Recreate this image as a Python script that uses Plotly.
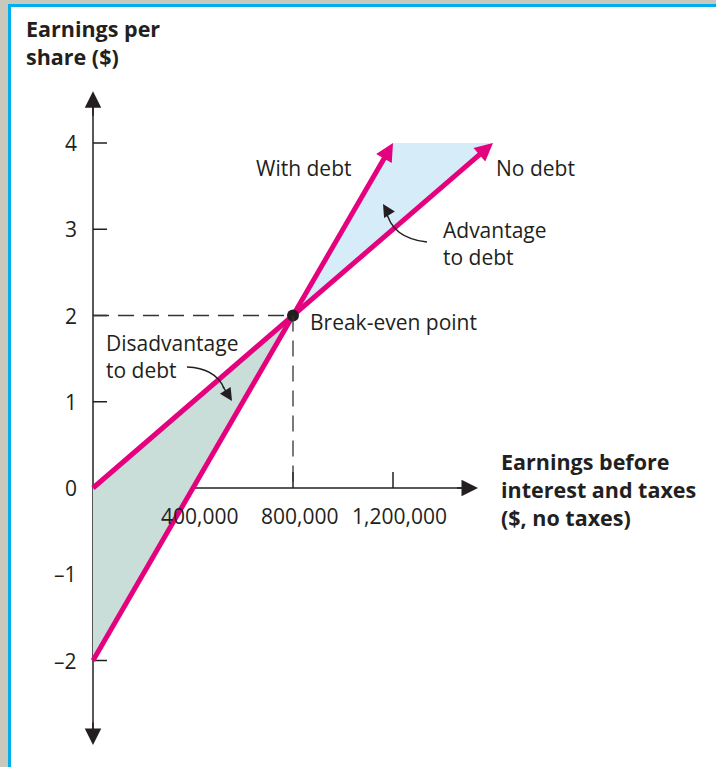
import plotly.graph_objects as go

# ---- data ----
ebit = [0, 400000, 800000, 1200000, 1600000]
eps_no_debt = [0, 1, 2, 3, 4]
ebit_debt = [0, 400000, 800000, 1200000]
eps_with_debt = [-2, 0, 2, 4]
break_even = (800000, 2)
y_ticks = [-2, -1, 0, 1, 2, 3, 4]
y_tick_labels = ["\u20132", "\u20131", "0", "1", "2", "3", "4"]
x_ticks = [400000, 800000, 1200000]
x_tick_labels = ["400,000", "800,000", "1,200,000"]

W, H = 716, 767
PX = 4000.0          # EBIT units per pixel
PY = 1 / 86.25       # EPS units per pixel
X0 = -93 * PX
X1 = (W - 93) * PX
Y1 = 488 * PY
Y0 = (488 - H) * PY

MAG = "#e5007e"
TXT = "#231f20"
FONT = "Open Sans"
FS = 21
FSB = 21.5

fig = go.Figure()

# shaded regions
fig.add_trace(go.Scatter(
    x=[ebit[0], break_even[0], ebit_debt[0], ebit[0]],
    y=[eps_no_debt[0], break_even[1], eps_with_debt[0], eps_no_debt[0]],
    fill="toself", fillcolor="#c9ddd9", line=dict(width=0), mode="lines",
    hoverinfo="skip", showlegend=False))
fig.add_trace(go.Scatter(
    x=[break_even[0], ebit_debt[-1], ebit[-1], break_even[0]],
    y=[break_even[1], eps_with_debt[-1], eps_no_debt[-1], break_even[1]],
    fill="toself", fillcolor="#d6ecf8", line=dict(width=0), mode="lines",
    hoverinfo="skip", showlegend=False))

# axes lines, ticks, dashed guides
shapes = []
shapes.append(dict(type="line", xref="x", yref="y", x0=0, x1=0, y0=-2.9, y1=4.5,
                   line=dict(color=TXT, width=1.5), layer="below"))
shapes.append(dict(type="line", xref="x", yref="y", x0=0, x1=1500000, y0=0, y1=0,
                   line=dict(color=TXT, width=1.5), layer="below"))
for t in y_ticks:
    shapes.append(dict(type="line", xref="x", yref="y", x0=0, x1=14 * PX, y0=t, y1=t,
                       line=dict(color=TXT, width=1.5), layer="below"))
for t in x_ticks:
    shapes.append(dict(type="line", xref="x", yref="y", x0=t, x1=t, y0=0, y1=16 * PY,
                       line=dict(color=TXT, width=1.5), layer="below"))
shapes.append(dict(type="line", xref="x", yref="y", x0=0, x1=break_even[0],
                   y0=break_even[1], y1=break_even[1],
                   line=dict(color="#333333", width=1.3, dash="16px,9px")))
shapes.append(dict(type="line", xref="x", yref="y", x0=break_even[0], x1=break_even[0],
                   y0=break_even[1], y1=0,
                   line=dict(color="#333333", width=1.3, dash="16px,9px")))
# curved pointers
shapes.append(dict(type="path", xref="x", yref="y",
                   path="M 1336000,2.852 Q 1194000,2.899 1172000,3.223",
                   line=dict(color=TXT, width=1.4)))
shapes.append(dict(type="path", xref="x", yref="y",
                   path="M 376000,1.403 Q 488000,1.391 524000,1.159",
                   line=dict(color=TXT, width=1.4)))
# frame
shapes.append(dict(type="rect", xref="paper", yref="paper", x0=0, x1=1, y0=1 - 4 / H, y1=1,
                   fillcolor="#c8c8bd", line=dict(width=0)))
shapes.append(dict(type="rect", xref="paper", yref="paper", x0=0, x1=8 / W, y0=0, y1=1,
                   fillcolor="#c8c8bd", line=dict(width=0)))
shapes.append(dict(type="rect", xref="paper", yref="paper", x0=8 / W, x1=1, y0=1 - 7 / H, y1=1 - 4 / H,
                   fillcolor="#00aeef", line=dict(width=0)))
shapes.append(dict(type="rect", xref="paper", yref="paper", x0=8 / W, x1=11 / W, y0=0, y1=1 - 4 / H,
                   fillcolor="#00aeef", line=dict(width=0)))

# EPS lines
fig.add_trace(go.Scatter(x=ebit[:-1] + [ebit[-1] - 40000], y=eps_no_debt[:-1] + [eps_no_debt[-1] - 0.1],
                         mode="lines", line=dict(color=MAG, width=5),
                         hoverinfo="skip", showlegend=False))
fig.add_trace(go.Scatter(x=ebit_debt[:-1] + [ebit_debt[-1] - 20000], y=eps_with_debt[:-1] + [eps_with_debt[-1] - 0.1],
                         mode="lines", line=dict(color=MAG, width=5),
                         hoverinfo="skip", showlegend=False))
fig.add_trace(go.Scatter(x=[break_even[0]], y=[break_even[1]], mode="markers",
                         marker=dict(color=TXT, size=12), hoverinfo="skip", showlegend=False))

ann = []
def arrow(x, y, ax, ay, color, width, size):
    ann.append(dict(x=x, y=y, ax=ax, ay=ay, xref="x", yref="y", axref="x", ayref="y",
                    text="", showarrow=True, arrowhead=2, arrowsize=size,
                    arrowwidth=width, arrowcolor=color))

# magenta arrowheads
arrow(ebit[-1], eps_no_debt[-1], ebit[-1] - 120000, eps_no_debt[-1] - 0.3, MAG, 4, 0.9)
arrow(ebit_debt[-1], eps_with_debt[-1], ebit_debt[-1] - 60000, eps_with_debt[-1] - 0.3, MAG, 4, 0.9)
# axis arrowheads
arrow(0, 4.6, 0, 4.3, TXT, 1.5, 2.2)
arrow(0, -2.98, 0, -2.7, TXT, 1.5, 2.2)
arrow(1540000, 0, 1450000, 0, TXT, 1.5, 2.2)
# pointer arrowheads
arrow(1160000, 3.293, 1184000, 3.177, TXT, 1.4, 1.8)
arrow(556000, 1.009, 516000, 1.194, TXT, 1.4, 1.8)

def label(x, y, text, xanchor="center", size=FS, bold=False, xref="x", yref="y", xshift=0):
    ann.append(dict(x=x, y=y, xref=xref, yref=yref, text=text, showarrow=False,
                    xanchor=xanchor, yanchor="middle", align="left", xshift=xshift,
                    font=dict(family=FONT, size=size, color=TXT,
                              weight="bold" if bold else "normal")))

for t, lab in zip(y_ticks, y_tick_labels):
    label(-14 * PX, t, lab, xanchor="right")
for t, lab in zip(x_ticks, x_tick_labels):
    label(t, -28 * PY, lab, xshift=6)

label(840000, 3.71, "With debt")
label(1768000, 3.71, "No debt")
label(1392000, 2.83, "Advantage<br>to debt", xanchor="left")
label(860000, 1.925, "Break-even point", xanchor="left")
label(44000, 1.53, "Disadvantage<br>to debt", xanchor="left")
label(24 / W, 1 - 42 / H, "Earnings per<br>share ($)", xanchor="left", bold=True,
      xref="paper", yref="paper", size=FSB)
label(499 / W, 1 - 490 / H, "Earnings before<br>interest and taxes<br>($, no taxes)",
      xanchor="left", bold=True, xref="paper", yref="paper", size=FSB)

fig.update_layout(
    width=W, height=H, margin=dict(l=0, r=0, t=0, b=0),
    paper_bgcolor="white", plot_bgcolor="white",
    xaxis=dict(range=[X0, X1], visible=False, fixedrange=True),
    yaxis=dict(range=[Y0, Y1], visible=False, fixedrange=True),
    shapes=shapes, annotations=ann, showlegend=False,
)

fig.write_html("out.html", config={"displayModeBar": False},
               post_script="document.body.style.margin='0';")
